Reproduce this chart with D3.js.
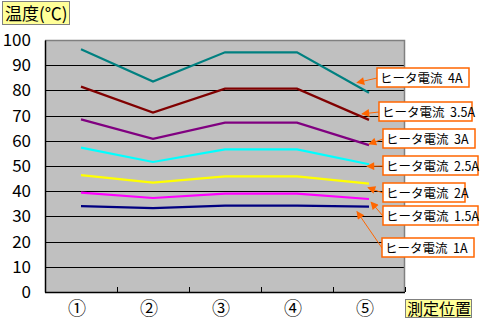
<!DOCTYPE html>
<html><head><meta charset="utf-8">
<script src="https://cdn.jsdelivr.net/npm/d3@7"></script>
<style>
html,body{margin:0;padding:0;background:#fff;}
svg{display:block;}
text{font-family:"Noto Sans CJK JP","Liberation Sans",sans-serif;}
</style></head>
<body>
<svg id="chart" width="480" height="326"></svg>
<script>
const categories = ["①","②","③","④","⑤"];
const seriesNames = ["ヒータ電流  4A","ヒータ電流  3.5A","ヒータ電流  3A","ヒータ電流  2.5A","ヒータ電流  2A","ヒータ電流  1.5A","ヒータ電流  1A"];
const s4A   = [96.3, 83.5, 95.1, 95.1, 79.1];
const s35A  = [81.5, 71.2, 80.7, 80.7, 68.3];
const s3A   = [68.5, 60.8, 67.2, 67.2, 58.3];
const s25A  = [57.3, 51.6, 56.6, 56.6, 50.7];
const s2A   = [46.4, 43.4, 45.9, 45.9, 43.0];
const s15A  = [39.4, 37.3, 39.0, 39.0, 36.9];
const s1A   = [34.1, 33.3, 34.3, 34.3, 33.9];
const yTicks = [0,10,20,30,40,50,60,70,80,90,100];
const yTitle = "温度(℃)";
const xTitle = "測定位置";

const seriesValues = [s4A, s35A, s3A, s25A, s2A, s15A, s1A];
const colors = ["#008080","#800000","#800080","#00FFFF","#FFFF00","#FF00FF","#000080"];
// callout box layout (box left, top, width) and arrow tip offset from the series' last point
const callouts = [
  {bx:377, by:68,  bw:92, tx:-12, ty:-10},
  {bx:379, by:102, bw:93, tx:-7,  ty:-6},
  {bx:383, by:129, bw:92, tx:0,   ty:-1},
  {bx:383, by:156, bw:95, tx:-2,  ty:2},
  {bx:383, by:183, bw:82, tx:-1,  ty:4},
  {bx:383, by:206, bw:95, tx:2,   ty:3},
  {bx:382, by:238, bw:92, tx:-12, ty:5}
];

const svg = d3.select("#chart");
const L=45, R=405, T=40, B=292;
const x = d3.scaleBand().domain(categories).range([L,R]).padding(0);
const y = d3.scaleLinear().domain([0,100]).range([B,T]);

svg.append("rect").attr("x",L).attr("y",T).attr("width",R-L).attr("height",B-T).attr("fill","#C0C0C0");
// gridlines
svg.append("g").selectAll("line").data(yTicks.filter(t=>t>0&&t<100)).join("line")
  .attr("x1",L).attr("x2",R).attr("y1",d=>Math.round(y(d))+0.5).attr("y2",d=>Math.round(y(d))+0.5)
  .attr("stroke","#000").attr("stroke-width",1);
// border top/right gray
svg.append("path").attr("d",`M${L},${T+0.5}H${R-0.5}V${B}`).attr("fill","none").attr("stroke","#808080").attr("stroke-width",1.5);

// y axis
const yAxis = d3.axisLeft(y).tickValues(yTicks).tickSize(0).tickPadding(14);
const gy = svg.append("g").attr("transform",`translate(${L},0)`).call(yAxis);
gy.select(".domain").attr("stroke","#000").attr("stroke-width",1.5);
gy.selectAll("text").attr("font-family","'Liberation Sans',Arial,sans-serif").attr("font-size",17).attr("fill","#000");

// x axis with inner ticks at category boundaries
const gx = svg.append("g").attr("transform",`translate(0,${B})`);
gx.append("line").attr("x1",L).attr("x2",R).attr("y1",0.5).attr("y2",0.5).attr("stroke","#000").attr("stroke-width",1.5);
gx.selectAll("line.tk").data(categories).join("line").attr("class","tk")
  .attr("x1",d=>x(d)+x.bandwidth()+0.5).attr("x2",d=>x(d)+x.bandwidth()+0.5)
  .attr("y1",0).attr("y2",-5).attr("stroke","#000").attr("stroke-width",1);
gx.selectAll("text").data(categories).join("text")
  .attr("x",d=>x(d)+x.bandwidth()/2-4).attr("y",23)
  .attr("text-anchor","middle").attr("font-size",18).attr("fill","#000").text(d=>d);

// lines
const line = d3.line().x((d,i)=>x(categories[i])+x.bandwidth()/2).y(d=>y(d));
svg.append("g").selectAll("path").data(seriesValues).join("path")
  .attr("d",d=>line(d)).attr("fill","none").attr("stroke",(d,i)=>colors[i]).attr("stroke-width",2.2);

// arrow marker
svg.append("defs").append("marker").attr("id","ah").attr("viewBox","0 0 10 10")
  .attr("refX",9).attr("refY",5).attr("markerWidth",9).attr("markerHeight",8)
  .attr("markerUnits","userSpaceOnUse").attr("orient","auto")
  .append("path").attr("d","M0,0L10,5L0,10Z").attr("fill","#FF6600");

// callouts
const lastX = x(categories[4])+x.bandwidth()/2;
const cg = svg.append("g");
callouts.forEach((c,i)=>{
  const vals = seriesValues[i];
  const tipX = lastX + c.tx, tipY = y(vals[vals.length-1]) + c.ty;
  const sx = c.bx, sy = c.by + 10;
  cg.append("line").attr("x1",sx).attr("y1",sy).attr("x2",tipX).attr("y2",tipY)
    .attr("stroke","#FF6600").attr("stroke-width",1).attr("marker-end","url(#ah)");
  cg.append("rect").attr("x",c.bx).attr("y",c.by).attr("width",c.bw).attr("height",19)
    .attr("fill","#fff").attr("stroke","#FF6600").attr("stroke-width",1.5);
  cg.append("text").attr("x",c.bx+3).attr("y",c.by+14.5).attr("font-size",12.5).attr("fill","#000")
    .attr("xml:space","preserve").style("white-space","pre").text(seriesNames[i]);
});

// titles
const tg = svg.append("g");
tg.append("rect").attr("x",2.5).attr("y",1.5).attr("width",67).attr("height",23)
  .attr("fill","#FFFF99").attr("stroke","#808080").attr("stroke-width",1);
tg.append("text").attr("x",5).attr("y",19.5).attr("font-size",17).attr("fill","#000").text(yTitle);
tg.append("rect").attr("x",405.5).attr("y",299.5).attr("width",66).attr("height",18)
  .attr("fill","#FFFF99").attr("stroke","#808080").attr("stroke-width",1);
tg.append("text").attr("x",407).attr("y",315).attr("font-size",16).attr("fill","#000").text(xTitle);
</script>
</body></html>
